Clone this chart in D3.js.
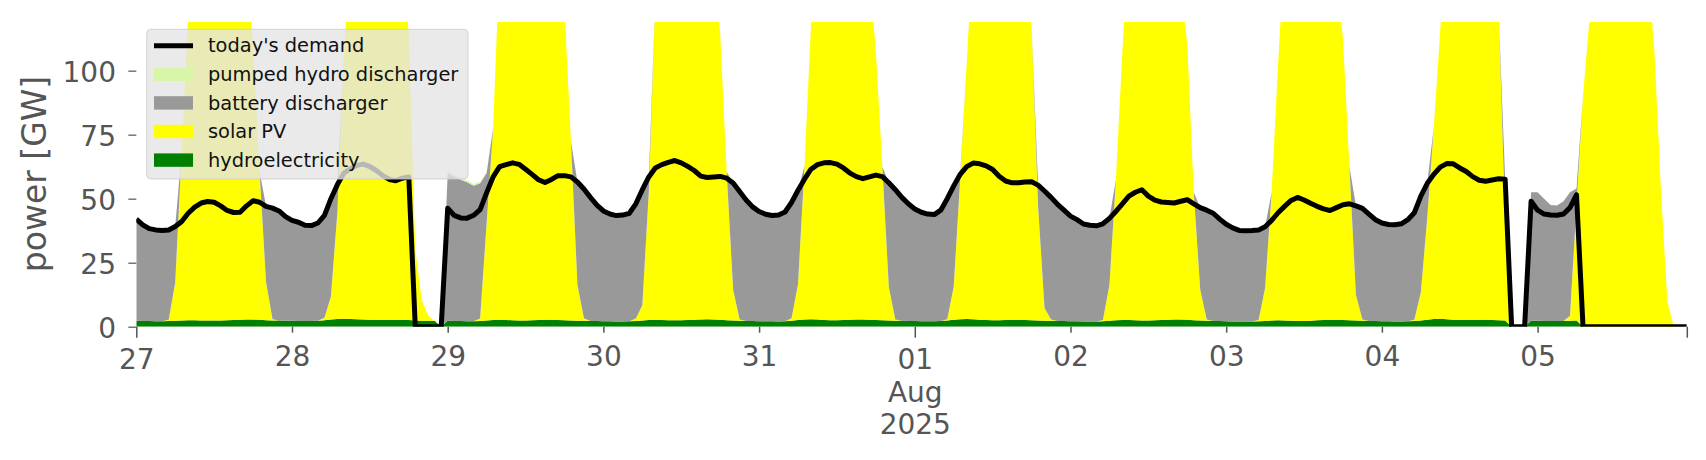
<!DOCTYPE html>
<html>
<head>
<meta charset="utf-8">
<script src="https://cdn.jsdelivr.net/npm/d3@7"></script>
<style>
  body { margin: 0; background: #fff; }
  svg { display: block; font-family: "DejaVu Sans", sans-serif; }
</style>
</head>
<body>
<svg id="chart" width="1706" height="460"></svg>
<script>
// hourly data, 27 Jul 2025 00:00 -> 5 Aug 2025 23:00 (GW)
const START = new Date(2025, 6, 27, 0, 0);
const dayLabels = ["27", "28", "29", "30", "31", "01", "02", "03", "04", "05"];
const monthLabel = "Aug";
const yearLabel = "2025";
const yTicks = [0, 25, 50, 75, 100];

const demand = [
  42.0, 39.8, 38.3, 37.8, 37.6, 37.8, 39.1, 41.1, 44.3, 46.7, 48.3, 48.9, 48.6, 47.2, 45.4, 44.6, 44.7, 47.2, 49.2, 48.6, 47.0, 46.3, 45.2, 43.0,
  41.5, 40.8, 39.6, 39.5, 40.5, 43.5, 50.0, 55.5, 60.0, 61.7, 63.0, 63.5, 62.5, 61.0, 59.0, 57.5, 57.0, 58.0, 58.5, 0, 0, 0, 0, 0,
  46.3, 43.5, 42.5, 42.4, 43.5, 45.7, 52.3, 58.5, 62.5, 63.3, 64.0, 63.4, 61.5, 59.5, 57.4, 56.3, 57.5, 59.0, 59.0, 58.5, 56.5, 53.8, 50.5, 47.5,
  45.2, 44.0, 43.4, 43.6, 44.3, 48.0, 53.5, 58.5, 62.0, 63.3, 64.2, 64.9, 64.0, 62.6, 61.0, 58.8, 58.3, 58.5, 58.7, 58.0, 56.1, 52.8, 49.5, 46.8,
  45.0, 43.9, 43.4, 43.6, 44.8, 48.5, 53.3, 57.6, 61.5, 63.3, 64.0, 64.1, 63.5, 62.0, 60.0, 58.6, 57.8, 58.5, 59.2, 58.6, 56.2, 53.5, 50.5, 48.0,
  46.0, 44.7, 44.0, 43.8, 45.5, 50.0, 55.0, 59.5, 62.5, 63.9, 63.6, 62.8, 61.4, 58.8, 56.9, 56.2, 56.2, 56.5, 56.6, 55.3, 53.0, 50.5, 47.8, 45.5,
  43.2, 41.8, 40.1, 39.6, 39.4, 40.2, 42.3, 45.0, 48.0, 51.0, 52.5, 53.5, 51.0, 49.4, 48.7, 48.5, 48.3, 49.0, 49.6, 48.0, 46.5, 45.5, 44.3, 42.0,
  40.0, 38.6, 37.6, 37.5, 37.6, 37.8, 39.0, 41.5, 44.5, 47.0, 49.3, 50.5, 49.5, 48.2, 47.0, 46.0, 45.4, 46.5, 47.6, 48.0, 47.2, 46.2, 44.0, 41.8,
  40.5, 39.9, 39.8, 40.2, 41.8, 44.5, 51.0, 56.0, 59.5, 62.3, 63.7, 63.6, 62.0, 60.6, 58.6, 57.2, 56.8, 57.3, 57.8, 57.6, 0, 0, 0, 49.0,
  45.5, 44.0, 43.6, 43.5, 44.0, 46.5, 51.5, 0, 0, 0, 0, 0, 0, 0, 0, 0, 0, 0, 0, 0, 0, 0, 0, 0
];

const hydro = [
  2.3, 2.2, 2.2, 2.1, 2.1, 2.2, 2.3, 2.4, 2.5, 2.5, 2.4, 2.4, 2.4, 2.4, 2.5, 2.6, 2.7, 2.8, 2.8, 2.7, 2.5, 2.4, 2.4, 2.3,
  2.3, 2.2, 2.2, 2.2, 2.3, 2.5, 2.8, 3.0, 3.1, 3.0, 2.9, 2.8, 2.7, 2.7, 2.6, 2.6, 2.6, 2.7, 2.6, 2.4, 2.3, 2.3, 2.2, 0,
  2.3, 2.2, 2.2, 2.1, 2.1, 2.2, 2.4, 2.6, 2.7, 2.6, 2.5, 2.4, 2.4, 2.5, 2.6, 2.7, 2.7, 2.6, 2.5, 2.4, 2.3, 2.3, 2.2, 2.2,
  2.1, 2.1, 2.0, 2.0, 2.1, 2.2, 2.4, 2.6, 2.7, 2.6, 2.5, 2.5, 2.5, 2.6, 2.7, 2.8, 2.9, 2.8, 2.7, 2.5, 2.4, 2.3, 2.2, 2.2,
  2.1, 2.1, 2.1, 2.0, 2.1, 2.3, 2.6, 2.8, 2.9, 2.8, 2.6, 2.5, 2.5, 2.6, 2.7, 2.8, 2.8, 2.7, 2.6, 2.5, 2.4, 2.3, 2.3, 2.2,
  2.2, 2.1, 2.1, 2.1, 2.2, 2.4, 2.7, 2.9, 3.0, 2.9, 2.7, 2.6, 2.5, 2.5, 2.6, 2.7, 2.7, 2.6, 2.5, 2.4, 2.3, 2.3, 2.2, 2.2,
  2.1, 2.1, 2.0, 2.0, 2.0, 2.1, 2.3, 2.5, 2.6, 2.6, 2.5, 2.4, 2.4, 2.5, 2.6, 2.7, 2.8, 2.8, 2.7, 2.5, 2.4, 2.3, 2.2, 2.2,
  2.1, 2.0, 2.0, 2.0, 2.0, 2.1, 2.2, 2.4, 2.5, 2.4, 2.3, 2.2, 2.2, 2.3, 2.5, 2.6, 2.6, 2.7, 2.6, 2.5, 2.4, 2.3, 2.2, 2.2,
  2.1, 2.1, 2.0, 2.0, 2.1, 2.2, 2.4, 2.7, 3.0, 3.1, 2.9, 2.7, 2.6, 2.6, 2.6, 2.7, 2.7, 2.6, 2.5, 2.4, 0, 0, 0, 2.3,
  2.3, 2.2, 2.2, 2.2, 2.2, 2.3, 2.4, 0, 0, 0, 0, 0, 0, 0, 0, 0, 0, 0, 0, 0, 0, 0, 0, 0
];

// midday values run off the top of the plot
const solar = [
  0, 0, 0, 0, 0, 0.5, 15, 66, 120, 150, 165, 172, 176, 174, 168, 158, 145, 135, 108, 58, 15, 0.5, 0, 0,
  0, 0, 0, 0, 0, 1, 9, 42, 104, 140, 160, 170, 174, 172, 166, 156, 145, 140, 112, 28, 8, 2, 0, 0,
  0, 0, 0, 0, 0, 1, 38, 75, 140, 160, 172, 178, 180, 176, 168, 155, 140, 130, 122, 70, 14, 1, 0, 0,
  0, 0, 0, 0, 0, 1, 6, 50, 125, 155, 170, 178, 180, 176, 168, 158, 148, 140, 112, 58, 12, 0.5, 0, 0,
  0, 0, 0, 0, 0, 1, 14, 60, 115, 150, 165, 175, 178, 175, 165, 150, 140, 135, 105, 60, 13, 0.5, 0, 0,
  0, 0, 0, 0, 0, 0.5, 13, 55, 100, 145, 165, 175, 178, 175, 165, 152, 140, 130, 115, 45, 5, 0.5, 0, 0,
  0, 0, 0, 0, 0, 0.5, 14, 55, 105, 150, 168, 176, 178, 174, 165, 150, 138, 130, 108, 50, 12, 0.5, 0, 0,
  0, 0, 0, 0, 0, 0.5, 13, 50, 100, 145, 165, 175, 178, 174, 165, 150, 140, 135, 110, 60, 10, 0.5, 0, 0,
  0, 0, 0, 0, 0, 0.5, 11, 40, 75, 113, 150, 168, 175, 172, 162, 150, 138, 128, 120, 40, 0, 0, 0, 0,
  0, 0, 0, 0, 0, 2, 45, 90, 120, 155, 170, 178, 180, 176, 168, 155, 145, 140, 108, 54, 10, 0, 0, 0
];

const battery = [
  39.7, 37.6, 36.1, 35.7, 35.5, 35.1, 21.8, 0, 0, 0, 0, 0, 0, 0, 0, 0, 0, 0, 0, 0, 29.5, 43.4, 42.8, 40.7,
  39.2, 38.6, 37.4, 37.3, 38.2, 40.0, 38.2, 10.5, 0, 0, 0, 0, 0, 0, 0, 0, 0, 0, 0, 0, 0, 0, 0, 0,
  57.7, 56.6, 55.2, 54.3, 52.9, 52.8, 19.6, 0, 0, 0, 0, 0, 0, 0, 0, 0, 0, 0, 0, 0, 40.2, 50.5, 48.3, 45.3,
  43.1, 41.9, 41.4, 41.6, 42.2, 44.8, 45.1, 5.9, 0, 0, 0, 0, 0, 0, 0, 0, 0, 0, 0, 0, 41.7, 50.0, 47.3, 44.6,
  42.9, 41.8, 41.3, 41.6, 42.7, 45.2, 36.7, 0, 0, 0, 0, 0, 0, 0, 0, 0, 0, 0, 0, 0, 40.8, 50.7, 48.2, 45.8,
  43.8, 42.6, 41.9, 41.7, 43.3, 47.1, 39.3, 1.6, 0, 0, 0, 0, 0, 0, 0, 0, 0, 0, 0, 7.9, 45.7, 47.7, 45.6, 43.3,
  41.1, 39.7, 38.1, 37.6, 37.4, 37.6, 26.0, 0, 0, 0, 0, 0, 0, 0, 0, 0, 0, 0, 0, 0, 32.1, 42.7, 42.1, 39.8,
  37.9, 36.6, 35.6, 35.5, 35.6, 35.2, 23.8, 0, 0, 0, 0, 0, 0, 0, 0, 0, 0, 0, 0, 0, 34.8, 43.4, 41.8, 39.6,
  38.4, 37.8, 37.8, 38.2, 39.7, 41.8, 37.6, 13.3, 0, 0, 0, 0, 0, 0, 0, 0, 0, 0, 0, 15.2, 0, 0, 0, 50.2,
  50.2, 47.8, 45.3, 45.1, 46.8, 48.2, 6.6, 0, 0, 0, 0, 0, 0, 0, 0, 0, 0, 0, 0, 0, 0, 0, 0, 0
];

const pumped = [
  0, 0, 0, 0, 0, 0, 0, 0, 0, 0, 0, 0, 0, 0, 0, 0, 0, 0, 0, 0, 0, 0, 0, 0,
  0, 0, 0, 0, 0, 0, 0, 0, 0, 0, 0, 0, 0, 0, 0, 0, 0, 0, 0, 0, 0, 0, 0, 0,
  0.8, 0.8, 0.8, 0.7, 0.7, 0.6, 0.5, 0, 0, 0, 0, 0, 0, 0, 0, 0, 0, 0, 0, 0, 0, 0, 0, 0,
  0, 0, 0, 0, 0, 0, 0, 0, 0, 0, 0, 0, 0, 0, 0, 0, 0, 0, 0, 0, 0, 0, 0, 0,
  0, 0, 0, 0, 0, 0, 0, 0, 0, 0, 0, 0, 0, 0, 0, 0, 0, 0, 0, 0, 0, 0, 0, 0,
  0, 0, 0, 0, 0, 0, 0, 0, 0, 0, 0, 0, 0, 0, 0, 0, 0, 0, 0, 0, 0, 0, 0, 0,
  0, 0, 0, 0, 0, 0, 0, 0, 0, 0, 0, 0, 0, 0, 0, 0, 0, 0, 0, 0, 0, 0, 0, 0,
  0, 0, 0, 0, 0, 0, 0, 0, 0, 0, 0, 0, 0, 0, 0, 0, 0, 0, 0, 0, 0, 0, 0, 0,
  0, 0, 0, 0, 0, 0, 0, 0, 0, 0, 0, 0, 0, 0, 0, 0, 0, 0, 0, 0, 0, 0, 0, 0,
  0, 0, 0, 0, 0, 0, 0, 0, 0, 0, 0, 0, 0, 0, 0, 0, 0, 0, 0, 0, 0, 0, 0, 0
];

const series = [
  { key: "hydro", label: "hydroelectricity", color: "#008000" },
  { key: "solar", label: "solar PV", color: "#ffff00" },
  { key: "battery", label: "battery discharger", color: "#999999" },
  { key: "pumped", label: "pumped hydro discharger", color: "#d9f5a8" }
];

const FONT = "DejaVu Sans";
const hours = demand.map((d, i) => d3.timeHour.offset(START, i));
const rows = hours.map((t, i) => ({
  time: t, hydro: hydro[i], solar: solar[i], battery: battery[i], pumped: pumped[i], demand: demand[i]
}));

const svg = d3.select("#chart");
const width = 1706, height = 460;
const margin = { top: 22, right: 19.2, bottom: 133.3, left: 136.3 };
const TICK_COLOR = "#555555";

const x = d3.scaleTime()
  .domain([hours[0], hours[hours.length - 1]])
  .range([margin.left, width - margin.right]);

const y = d3.scaleLinear()
  .domain([0, 119])
  .range([height - margin.bottom, margin.top]);

svg.append("defs").append("clipPath").attr("id", "plot-clip")
  .append("rect")
  .attr("x", margin.left).attr("y", margin.top)
  .attr("width", width - margin.left - margin.right)
  .attr("height", height - margin.top - margin.bottom);

const plot = svg.append("g").attr("clip-path", "url(#plot-clip)");

// stacked generation
const stacked = d3.stack().keys(series.map((s) => s.key))(rows);

const area = d3.area()
  .x((d) => x(d.data.time))
  .y0((d) => y(d[0]))
  .y1((d) => y(d[1]));

plot.selectAll("path.layer")
  .data(stacked)
  .enter()
  .append("path")
  .attr("class", "layer")
  .attr("fill", (d, i) => series[i].color)
  .attr("d", area);

// demand line
const line = d3.line()
  .x((d) => x(d.time))
  .y((d) => y(d.demand));

plot.append("path")
  .datum(rows)
  .attr("fill", "none")
  .attr("stroke", "#000")
  .attr("stroke-width", 5)
  .attr("stroke-linejoin", "round")
  .attr("d", line);

// x axis: day ticks, the 1st of the month (and the first day) are major
const dayTicks = dayLabels.map((_, i) => d3.timeDay.offset(START, i));
const tickDates = dayTicks.concat([hours[hours.length - 1]]);
const isMajor = (i) => i === 0 || i === 5 || i === tickDates.length - 1;

const xAxisG = svg.append("g")
  .attr("transform", "translate(0," + y(0) + ")")
  .call(
    d3.axisBottom(x)
      .tickValues(tickDates)
      .tickFormat((d, i) => dayLabels[i] || "")
      .tickSize(6)
  )
  .attr("font-family", FONT)
  .attr("font-size", 28);

xAxisG.select(".domain").remove();
xAxisG.selectAll(".tick line")
  .attr("stroke", TICK_COLOR)
  .attr("stroke-width", 1.5)
  .attr("y2", (d, i) => (isMajor(i) ? 11 : 6));
xAxisG.selectAll(".tick text")
  .attr("fill", TICK_COLOR)
  .attr("dy", null)
  .attr("y", (d, i) => (isMajor(i) ? 42.6 : 39.3));

// month / year under the 1st
xAxisG.selectAll(".tick text")
  .filter((d, i) => i === 5)
  .each(function () {
    const t = d3.select(this);
    const first = t.text();
    t.text(null);
    [first, monthLabel, yearLabel].forEach((s, k) => {
      t.append("tspan").attr("x", 0).attr("dy", k === 0 ? 0 : 32.4).text(s);
    });
  });

// y axis
const yAxisG = svg.append("g")
  .attr("transform", "translate(" + margin.left + ",0)")
  .call(d3.axisLeft(y).tickValues(yTicks).tickSize(8).tickPadding(12.3))
  .attr("font-family", FONT)
  .attr("font-size", 28);

yAxisG.select(".domain").remove();
yAxisG.selectAll(".tick line").attr("stroke", TICK_COLOR).attr("stroke-width", 1.2);
yAxisG.selectAll(".tick text")
  .attr("fill", TICK_COLOR)
  .attr("dy", "0.4em");

svg.append("text")
  .attr("transform", "translate(46,174) rotate(-90)")
  .attr("text-anchor", "middle")
  .attr("font-family", FONT)
  .attr("fill", TICK_COLOR)
  .attr("font-size", 33)
  .text("power [GW]");

// legend
const legend = svg.append("g").attr("font-family", FONT);
legend.append("rect")
  .attr("x", 146.7).attr("y", 29.3)
  .attr("width", 321.3).attr("height", 149.7)
  .attr("rx", 4)
  .attr("fill", "#e5e5e5").attr("fill-opacity", 0.8)
  .attr("stroke", "#cccccc").attr("stroke-opacity", 0.8);

const legendItems = [{ label: "today's demand", color: "#000", isLine: true }]
  .concat(series.slice().reverse());

const item = legend.selectAll("g.item")
  .data(legendItems)
  .enter()
  .append("g")
  .attr("class", "item")
  .attr("transform", (d, i) => "translate(154," + (45.7 + i * 28.6) + ")");

item.each(function (d) {
  const g = d3.select(this);
  if (d.isLine) {
    g.append("line")
      .attr("x1", 0).attr("x2", 39)
      .attr("stroke", d.color).attr("stroke-width", 5);
  } else {
    g.append("rect")
      .attr("x", 0).attr("y", -6.7)
      .attr("width", 39).attr("height", 13.4)
      .attr("fill", d.color);
  }
});

item.append("text")
  .attr("x", 54)
  .attr("dy", "0.35em")
  .attr("font-size", 19.4)
  .attr("fill", "#111")
  .text((d) => d.label);
</script>
</body>
</html>
